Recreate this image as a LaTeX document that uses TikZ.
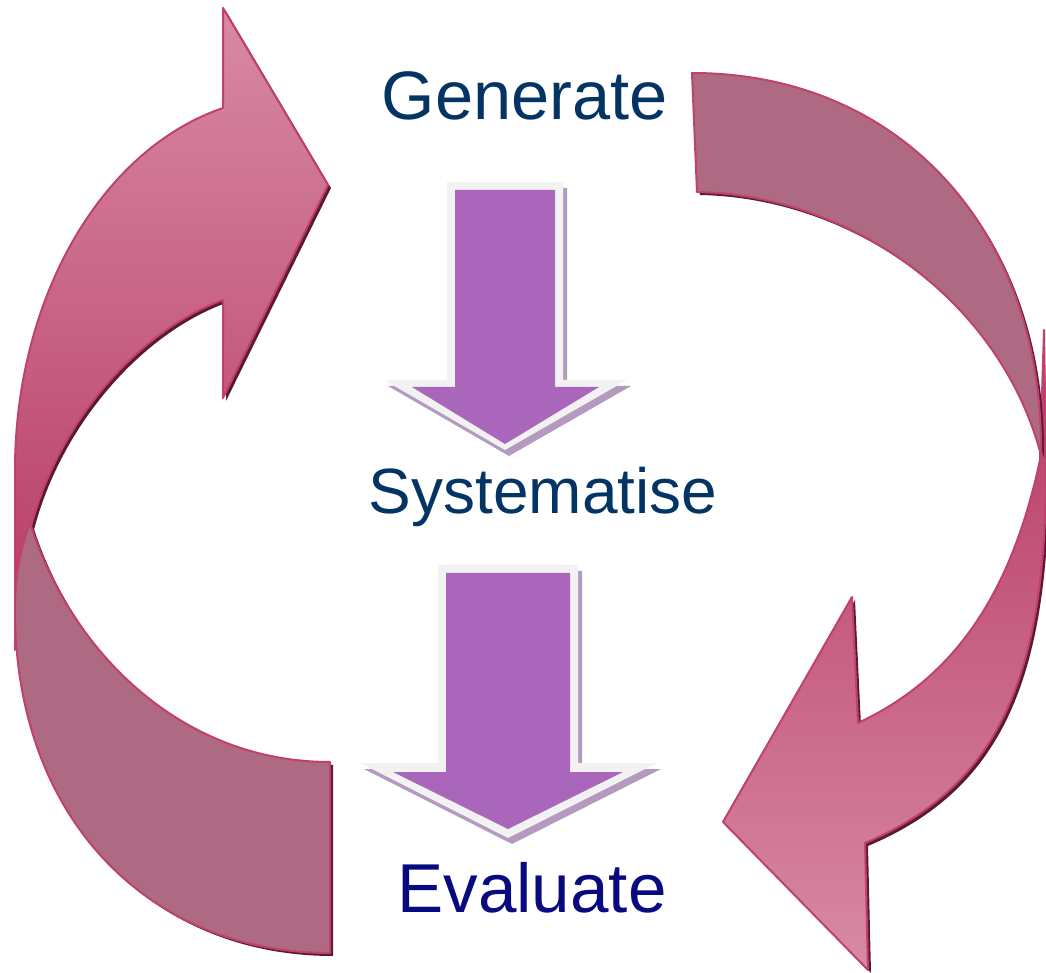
\documentclass[tikz,border=0pt]{standalone}
\usepackage{fontspec}
\setmainfont{Liberation Sans}
\usetikzlibrary{shadows}

\definecolor{cyclepinklight}{HTML}{D88AA5}
\definecolor{cyclepinkdark}{HTML}{B63862}
\definecolor{cyclemauve}{HTML}{AD6A82}
\definecolor{cyclerim}{HTML}{C2406E}
\definecolor{cycleshadow}{HTML}{5A1A34}
\definecolor{stepfill}{HTML}{AA66BB}
\definecolor{stepedge}{HTML}{F2F2F2}
\definecolor{stepshadow}{HTML}{B59AC0}
\definecolor{textblue}{HTML}{043464}
\definecolor{textnavy}{HTML}{0A0A80}

\begin{document}
\begin{tikzpicture}[x=0.5pt, y=-0.5pt]
		\tikzset{
			ribbon/.style={draw=cyclerim, line width=1pt, line join=round,
				drop shadow={shadow xshift=1.5pt, shadow yshift=-1.5pt, fill=cycleshadow, opacity=1}},
			pinkdown/.style={ribbon, top color=cyclepinklight, bottom color=cyclepinkdark},
			pinkup/.style={ribbon, top color=cyclepinkdark, bottom color=cyclepinklight},
			mauveband/.style={ribbon, fill=cyclemauve},
			steprim/.style={fill=stepedge,
				drop shadow={shadow xshift=2pt, shadow yshift=-3pt, fill=stepshadow, opacity=1}},
			stepbody/.style={fill=stepfill},
			steptext/.style={anchor=base, inner sep=0pt}
		}
		\useasboundingbox (0,0) rectangle (1046,973);
		
		% Left cycle arrow, pointing up to Generate
		\path[pinkdown] (223,108) .. controls (100,150) and (15,300) .. (15,470) -- (15,650)
			.. controls (18,590) and (25,550) .. (32,523)
			.. controls (60,420) and (140,330) .. (223,300)
			-- (223,398) -- (328,185) -- (223,8) -- cycle;
		
		% Right cycle arrow, pointing down to Evaluate
		\path[pinkup] (1044,330) -- (1046,470) .. controls (1046,690) and (990,790) .. (865,843)
			-- (868,970) -- (723,822) -- (852,597) -- (858,723)
			.. controls (950,680) and (1010,600) .. (1040,460) -- cycle;
		
		% Tail bands
		\path[mauveband] (30,523) .. controls (20,550) and (15,575) .. (15,610)
			.. controls (15,820) and (150,953) .. (330,953) -- (330,762)
			.. controls (180,762) and (70,650) .. (30,523) -- cycle;
		\path[mauveband] (692,73) .. controls (900,73) and (1044,230) .. (1041,455)
			.. controls (1000,300) and (850,195) .. (697,192) -- cycle;
		
		% Labels
		\node[steptext, text=textblue, font=\fontsize{34.3}{41}\selectfont] (generate) at (525,120) {Generate};
		\node[steptext, text=textblue, font=\fontsize{32}{38}\selectfont] (systematise) at (543,514) {Systematise};
		\node[steptext, text=textnavy, font=\fontsize{34.6}{41}\selectfont] (evaluate) at (532,912) {Evaluate};
		
		% Step arrows
		\fill[steprim] (447,182) -- (563,182) -- (563,380) -- (627,380) -- (505,450) -- (384,380) -- (447,380) -- cycle;
		\fill[stepbody] (455,190) -- (555,190) -- (555,387) -- (599,387) -- (505,444) -- (412,387) -- (455,387) -- cycle;
		
		\fill[steprim] (438,565) -- (578,565) -- (578,763) -- (657,763) -- (508,838) -- (360,763) -- (438,763) -- cycle;
		\fill[stepbody] (446,573) -- (570,573) -- (570,772) -- (623,772) -- (508,829) -- (393,772) -- (446,772) -- cycle;
		
	\end{tikzpicture}
\end{document}
